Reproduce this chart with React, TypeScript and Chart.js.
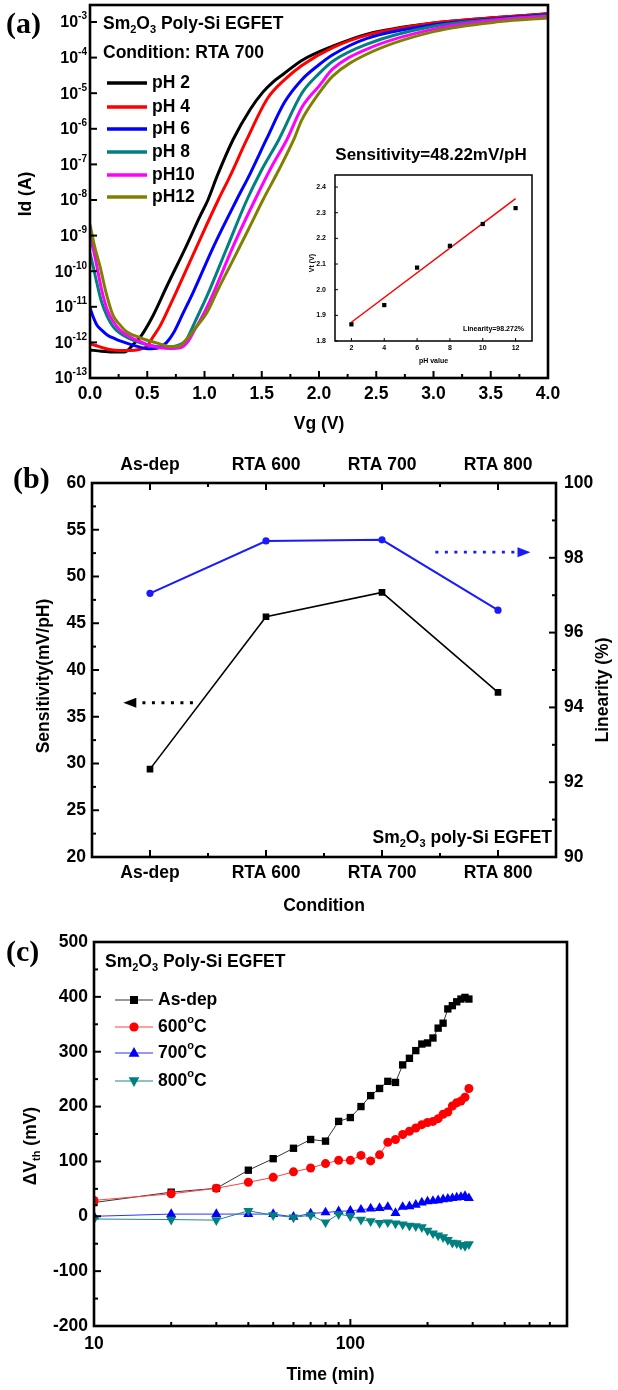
import React, { useEffect, useRef } from 'react';
import { Chart, registerables } from 'chart.js';
Chart.register(...registerables);

const SANS = '"Liberation Sans", Arial, sans-serif';
const SERIF = '"Liberation Serif", "Times New Roman", serif';
const FS = 17.5;

// ---------- Panel (a): Id-Vg curves ----------
const phLabels = ['pH 2', 'pH 4', 'pH 6', 'pH 8', 'pH10', 'pH12'];
const phColors = ['#000000', '#ff0000', '#0000ff', '#008080', '#ff00ff', '#808000'];
const vgPH2 = [0, 0.1, 0.2, 0.3, 0.38, 0.45, 0.55, 0.67, 0.84, 0.96, 1.03, 1.11, 1.25, 1.4, 1.51, 1.6, 1.69, 1.85, 2.12, 2.42, 3.0, 3.58, 4.0];
const logIdPH2 = [-12.21, -12.25, -12.27, -12.27, -12.05, -11.8, -11.25, -10.43, -9.3, -8.46, -8.0, -7.33, -6.3, -5.45, -4.97, -4.68, -4.46, -4.08, -3.68, -3.34, -3.03, -2.87, -2.77];
const vgPH4 = [0, 0.08, 0.17, 0.26, 0.35, 0.43, 0.5, 0.55, 0.61, 0.7, 0.79, 0.96, 1.12, 1.22, 1.37, 1.55, 1.7, 1.85, 2.12, 2.42, 3.0, 3.58, 4.0];
const logIdPH4 = [-12.04, -12.12, -12.2, -12.23, -12.23, -12.2, -12.1, -11.85, -11.55, -10.95, -10.32, -9.11, -8.0, -7.35, -6.3, -5.15, -4.62, -4.22, -3.72, -3.37, -3.03, -2.87, -2.77];
const vgPH6 = [0, 0.03, 0.06, 0.1, 0.15, 0.22, 0.32, 0.42, 0.5, 0.6, 0.67, 0.73, 0.81, 0.9, 1.08, 1.28, 1.4, 1.54, 1.7, 1.85, 2.0, 2.12, 2.42, 3.0, 3.58, 4.0];
const logIdPH6 = [-11.03, -11.3, -11.51, -11.65, -11.79, -11.9, -12.02, -12.12, -12.18, -12.15, -12.0, -11.73, -11.2, -10.6, -9.3, -8.0, -7.25, -6.3, -5.25, -4.62, -4.2, -3.92, -3.46, -3.08, -2.9, -2.8];
const vgPH8 = [0, 0.03, 0.06, 0.1, 0.15, 0.2, 0.26, 0.35, 0.44, 0.55, 0.65, 0.75, 0.84, 0.92, 1.02, 1.19, 1.37, 1.5, 1.65, 1.85, 2.0, 2.12, 2.42, 3.0, 3.58, 4.0];
const logIdPH8 = [-9.49, -9.9, -10.33, -10.85, -11.27, -11.55, -11.74, -11.9, -12.01, -12.1, -12.13, -12.1, -11.93, -11.4, -10.71, -9.39, -8.0, -7.15, -6.3, -5.0, -4.45, -4.1, -3.62, -3.12, -2.92, -2.82];
const vgPH10 = [0, 0.03, 0.06, 0.1, 0.15, 0.2, 0.26, 0.35, 0.44, 0.52, 0.61, 0.7, 0.79, 0.85, 0.9, 1.0, 1.08, 1.25, 1.44, 1.58, 1.72, 1.85, 2.0, 2.12, 2.42, 3.0, 3.58, 4.0];
const logIdPH10 = [-9.02, -9.4, -9.86, -10.5, -11.08, -11.4, -11.65, -11.85, -11.98, -12.08, -12.15, -12.17, -12.15, -12.0, -11.73, -11.15, -10.6, -9.3, -8.0, -7.1, -6.3, -5.4, -4.8, -4.32, -3.76, -3.2, -2.94, -2.84];
const vgPH12 = [0, 0.04, 0.087, 0.14, 0.2, 0.26, 0.32, 0.44, 0.52, 0.61, 0.7, 0.78, 0.84, 0.92, 1.02, 1.12, 1.25, 1.38, 1.51, 1.65, 1.78, 1.85, 2.0, 2.12, 2.42, 3.0, 3.58, 4.0];
const logIdPH12 = [-8.69, -9.3, -9.86, -10.6, -11.23, -11.5, -11.7, -11.87, -11.96, -12.04, -12.12, -12.1, -11.93, -11.6, -11.17, -10.5, -9.68, -8.85, -8.0, -7.15, -6.3, -5.75, -5.0, -4.52, -3.9, -3.27, -2.99, -2.89];
const vgSets = [vgPH2, vgPH4, vgPH6, vgPH8, vgPH10, vgPH12];
const logIdSets = [logIdPH2, logIdPH4, logIdPH6, logIdPH8, logIdPH10, logIdPH12];
const idTickExps = [-3, -4, -5, -6, -7, -8, -9, -10, -11, -12, -13];
const vgTicks = [0, 0.5, 1.0, 1.5, 2.0, 2.5, 3.0, 3.5, 4.0];
const vgMinorTicks = [0.25, 0.75, 1.25, 1.75, 2.25, 2.75, 3.25, 3.75];

// ---------- Inset ----------
const insetPH = [2, 4, 6, 8, 10, 12];
const insetVt = [1.865, 1.94, 2.086, 2.171, 2.256, 2.318];
const fitPH = [2, 12];
const fitVt = [1.873, 2.355];
const insetYTicks = [1.8, 1.9, 2.0, 2.1, 2.2, 2.3, 2.4];
const insetXTicks = [2, 4, 6, 8, 10, 12];

// ---------- Panel (b) ----------
const conditions = ['As-dep', 'RTA 600', 'RTA 700', 'RTA 800'];
const sensitivity = [29.4, 45.7, 48.3, 37.6];
const linearity = [97.05, 98.45, 98.48, 96.6];
const sensTicks = [20, 25, 30, 35, 40, 45, 50, 55, 60];
const linTicks = [90, 92, 94, 96, 98, 100];
const arrowSens = [0.37, -0.23, 36.5]; // from idx, to idx, value
const arrowLin = [2.46, 3.28, 98.15];

// ---------- Panel (c) ----------
const times = [10, 20, 30, 40, 50, 60, 70, 80, 90, 100, 110, 120, 130, 140, 150, 160, 170, 180, 190, 200, 210, 220, 230, 240, 250, 260, 270, 280, 290];
const dvAsDep = [25, 44, 51, 84, 105, 124, 140, 137, 173, 180, 200, 220, 233, 246, 244, 276, 288, 302, 314, 316, 325, 343, 352, 378, 384, 391, 396, 399, 396];
const dv600 = [29, 41, 51, 62, 71, 81, 88, 96, 102, 102, 111, 101, 112, 135, 140, 149, 155, 161, 167, 171, 173, 178, 186, 190, 201, 207, 210, 217, 233];
const dv700 = [0, 4, 4, 4, 4, -1, 5, 7, 9, 10, 12, 14, 15, 17, 6, 17, 18, 21, 25, 27, 28, 29, 31, 32, 33, 34, 35, 37, 33];
const dv800 = [-5, -6, -7, 10, 2, -2, 2, -11, 4, 0, -6, -9, -12, -11, -13, -15, -17, -18, -20, -26, -31, -35, -38, -43, -48, -49, -52, -54, -51];
const dvTicks = [-200, -100, 0, 100, 200, 300, 400, 500];
const dvMinorTicks = [-150, -50, 50, 150, 250, 350, 450];
const timeLabels = [10, 100];
const timeMinorTicks = [20, 30, 40, 50, 60, 70, 80, 90, 200, 300, 400, 500, 600];
const seriesC = ['As-dep', '600', '700', '800'];
const colorsC = ['#000000', '#ff0000', '#0000ff', '#008080'];
const lineColorsC = ['#333333', '#ff4040', '#3030ff', '#208888'];

// ---------- helpers ----------
type Seg = [string, number];
function rich(ctx: any, segs: Seg[] | string, x: number, y: number, size: number, align = 'left', opt: any = {}) {
  const list: Seg[] = typeof segs === 'string' ? [[segs, 0]] : segs;
  const fam = opt.family || SANS;
  const wt = opt.weight || 'bold';
  const f = (m: number) => `${wt} ${m ? Math.round(size * 0.62) : size}px ${fam}`;
  let w = 0;
  for (const [t, m] of list) { ctx.font = f(m); w += ctx.measureText(t).width; }
  ctx.save();
  ctx.translate(x, y);
  if (opt.rot) ctx.rotate(opt.rot);
  let cx = align === 'left' ? 0 : align === 'center' ? -w / 2 : -w;
  ctx.fillStyle = opt.color || '#000';
  ctx.textBaseline = 'middle';
  ctx.textAlign = 'left';
  for (const [t, m] of list) {
    ctx.font = f(m);
    const dy = m === 1 ? size * 0.32 : m === 2 ? -size * 0.4 : 0;
    ctx.fillText(t, cx, dy);
    cx += ctx.measureText(t).width;
  }
  ctx.restore();
}
function frame(ctx: any, a: any, lw = 2.5) {
  ctx.save();
  ctx.lineWidth = lw;
  ctx.strokeStyle = '#000';
  ctx.strokeRect(a.left, a.top, a.right - a.left, a.bottom - a.top);
  ctx.restore();
}
function tick(ctx: any, x: number, y: number, dx: number, dy: number, lw = 2) {
  ctx.save();
  ctx.lineWidth = lw;
  ctx.strokeStyle = '#000';
  ctx.beginPath();
  ctx.moveTo(x, y);
  ctx.lineTo(x + dx, y + dy);
  ctx.stroke();
  ctx.restore();
}
function marker(ctx: any, style: string, x: number, y: number, r: number, color: string) {
  ctx.save();
  ctx.fillStyle = color;
  ctx.beginPath();
  if (style === 'rect') ctx.rect(x - r, y - r, 2 * r, 2 * r);
  else if (style === 'circle') ctx.arc(x, y, r, 0, Math.PI * 2);
  else if (style === 'tri') { ctx.moveTo(x, y - r * 1.1); ctx.lineTo(x + r, y + r * 0.7); ctx.lineTo(x - r, y + r * 0.7); ctx.closePath(); }
  else { ctx.moveTo(x, y + r * 1.1); ctx.lineTo(x + r, y - r * 0.7); ctx.lineTo(x - r, y - r * 0.7); ctx.closePath(); }
  ctx.fill();
  ctx.restore();
}
function arrow(ctx: any, x1: number, x2: number, y: number, color: string) {
  ctx.save();
  ctx.strokeStyle = color;
  ctx.fillStyle = color;
  ctx.lineWidth = 2.8;
  const dir = Math.sign(x2 - x1);
  const head = 13;
  ctx.setLineDash([3, 6.5]);
  ctx.beginPath();
  ctx.moveTo(x1, y);
  ctx.lineTo(x2 - dir * head, y);
  ctx.stroke();
  ctx.setLineDash([]);
  ctx.beginPath();
  ctx.moveTo(x2, y);
  ctx.lineTo(x2 - dir * head, y - 5);
  ctx.lineTo(x2 - dir * head, y + 5);
  ctx.closePath();
  ctx.fill();
  ctx.restore();
}
const SM2O3: Seg[] = [['Sm', 0], ['2', 1], ['O', 0], ['3', 1]];
const hidden = (extra: any = {}) => ({ display: false, ...extra });
const baseOpts = (padding: any) => ({
  animation: false,
  responsive: false,
  maintainAspectRatio: false,
  events: [],
  layout: { padding },
  plugins: { legend: { display: false }, tooltip: { enabled: false }, title: { display: false } },
});

// ---------- chart configs ----------
function cfgA(): any {
  return {
    type: 'line',
    data: {
      datasets: phLabels.map((lab, i) => ({
        label: lab,
        data: vgSets[i].map((v, j) => ({ x: v, y: Math.pow(10, logIdSets[i][j]) })),
        borderColor: phColors[i],
        borderWidth: 3,
        pointRadius: 0,
        cubicInterpolationMode: 'monotone',
        order: 5 - i,
      })),
    },
    options: {
      ...baseOpts({ left: 90, right: 70, top: 5, bottom: 1012 }),
      scales: {
        x: hidden({ type: 'linear', min: 0, max: 4 }),
        y: hidden({ type: 'logarithmic', min: 1e-13, max: 3e-3 }),
      },
    },
    plugins: [{
      id: 'pa',
      afterDraw(chart: any) {
        const ctx = chart.ctx, a = chart.chartArea, xs = chart.scales.x, ys = chart.scales.y;
        frame(ctx, a, 2.6);
        for (const v of vgTicks) tick(ctx, xs.getPixelForValue(v), a.bottom, 0, -7);
        for (const v of vgMinorTicks) tick(ctx, xs.getPixelForValue(v), a.bottom, 0, -4);
        for (const e of idTickExps) tick(ctx, a.left, ys.getPixelForValue(Math.pow(10, e)), 7, 0);
        for (const v of vgTicks) rich(ctx, v.toFixed(1), xs.getPixelForValue(v), 394, FS, 'center');
        for (const e of idTickExps) rich(ctx, [['10', 0], [String(e), 2]], 87, ys.getPixelForValue(Math.pow(10, e)) + 1, 16, 'right');
        rich(ctx, 'Vg (V)', (a.left + a.right) / 2, 424, FS, 'center');
        rich(ctx, 'Id (A)', 26, 194, FS, 'center', { rot: -Math.PI / 2 });
        rich(ctx, '(a)', 6, 25, 30, 'left', { family: SERIF });
        rich(ctx, [...SM2O3, [' Poly-Si EGFET', 0]], 103, 24, FS, 'left');
        rich(ctx, 'Condition: RTA 700', 103, 53, FS, 'left');
        const rows = [83, 107, 129, 152, 175, 197];
        phLabels.forEach((lab, i) => {
          ctx.save();
          ctx.strokeStyle = phColors[i];
          ctx.lineWidth = 3.5;
          ctx.beginPath();
          ctx.moveTo(107, rows[i]);
          ctx.lineTo(147, rows[i]);
          ctx.stroke();
          ctx.restore();
          rich(ctx, lab, 152, rows[i], FS, 'left');
        });
      },
    }],
  };
}

function cfgInset(): any {
  return {
    type: 'line',
    data: {
      datasets: [
        {
          data: fitPH.map((p, i) => ({ x: p, y: fitVt[i] })),
          borderColor: '#ff0000', borderWidth: 1.5, pointRadius: 0, order: 1,
        },
        {
          data: insetPH.map((p, i) => ({ x: p, y: insetVt[i] })),
          showLine: false, pointStyle: 'rect', pointRadius: 3, pointBorderWidth: 0,
          pointBackgroundColor: '#000', order: 0,
        },
      ],
    },
    options: {
      ...baseOpts({ left: 335, right: 86, top: 175, bottom: 1049 }),
      scales: {
        x: hidden({ type: 'linear', min: 1, max: 13 }),
        y: hidden({ type: 'linear', min: 1.8, max: 2.447 }),
      },
    },
    plugins: [{
      id: 'pi',
      afterDraw(chart: any) {
        const ctx = chart.ctx, a = chart.chartArea, xs = chart.scales.x, ys = chart.scales.y;
        frame(ctx, a, 1.5);
        for (const v of insetXTicks) {
          tick(ctx, xs.getPixelForValue(v), a.bottom, 0, -3, 1);
          rich(ctx, String(v), xs.getPixelForValue(v), 348, 7, 'center');
        }
        for (const v of insetYTicks) {
          tick(ctx, a.left, ys.getPixelForValue(v), 3, 0, 1);
          rich(ctx, v.toFixed(1), 326, ys.getPixelForValue(v), 7, 'right');
        }
        rich(ctx, 'pH value', (a.left + a.right) / 2, 361, 7, 'center');
        rich(ctx, 'Vt (V)', 312, 263, 7, 'center', { rot: -Math.PI / 2 });
        rich(ctx, 'Linearity=98.272%', 524, 329, 7, 'right');
        rich(ctx, 'Sensitivity=48.22mV/pH', 431, 155, 17, 'center');
      },
    }],
  };
}

function cfgB(): any {
  return {
    type: 'line',
    data: {
      labels: conditions,
      datasets: [
        {
          data: sensitivity, yAxisID: 'y', borderColor: '#000', borderWidth: 1.6,
          pointStyle: 'rect', pointRadius: 4.7, pointBorderWidth: 0, pointBackgroundColor: '#000',
        },
        {
          data: linearity, yAxisID: 'y1', borderColor: '#1a1aff', borderWidth: 2,
          pointStyle: 'circle', pointRadius: 3.6, pointBorderWidth: 0, pointBackgroundColor: '#1a1aff',
        },
      ],
    },
    options: {
      ...baseOpts({ left: 92, right: 62, top: 483, bottom: 533 }),
      scales: {
        x: hidden({ type: 'category', offset: true }),
        y: hidden({ type: 'linear', min: 20, max: 60 }),
        y1: hidden({ type: 'linear', min: 90, max: 100, position: 'right' }),
      },
    },
    plugins: [{
      id: 'pb',
      afterDraw(chart: any) {
        const ctx = chart.ctx, a = chart.chartArea, xs = chart.scales.x, ys = chart.scales.y, y1 = chart.scales.y1;
        frame(ctx, a, 2.6);
        conditions.forEach((c, i) => {
          const x = xs.getPixelForValue(i);
          tick(ctx, x, a.bottom, 0, -7);
          tick(ctx, x, a.top, 0, 7);
          rich(ctx, c, x, 873, FS, 'center');
          rich(ctx, c, x, 465, FS, 'center');
          if (i < conditions.length - 1) {
            const xm = xs.getPixelForValue(i + 0.5);
            tick(ctx, xm, a.bottom, 0, -4);
            tick(ctx, xm, a.top, 0, 4);
          }
        });
        sensTicks.forEach((v, i) => {
          tick(ctx, a.left, ys.getPixelForValue(v), 7, 0);
          if (i < sensTicks.length - 1) tick(ctx, a.left, ys.getPixelForValue(v + 2.5), 4, 0);
          rich(ctx, String(v), 86, ys.getPixelForValue(v), FS, 'right');
        });
        linTicks.forEach((v, i) => {
          tick(ctx, a.right, y1.getPixelForValue(v), -7, 0);
          if (i < linTicks.length - 1) tick(ctx, a.right, y1.getPixelForValue(v + 1), -4, 0);
          rich(ctx, String(v), 564, y1.getPixelForValue(v), FS, 'left');
        });
        rich(ctx, 'Condition', (a.left + a.right) / 2, 906, FS, 'center');
        rich(ctx, 'Sensitivity(mV/pH)', 44, 676, FS, 'center', { rot: -Math.PI / 2 });
        rich(ctx, 'Linearity (%)', 603, 690, FS, 'center', { rot: -Math.PI / 2 });
        rich(ctx, '(b)', 13, 480, 30, 'left', { family: SERIF });
        rich(ctx, [...SM2O3, [' poly-Si EGFET', 0]], 552, 838, FS, 'right');
        arrow(ctx, xs.getPixelForValue(arrowSens[0]), xs.getPixelForValue(arrowSens[1]), ys.getPixelForValue(arrowSens[2]), '#000');
        arrow(ctx, xs.getPixelForValue(arrowLin[0]), xs.getPixelForValue(arrowLin[1]), y1.getPixelForValue(arrowLin[2]), '#1a1aff');
      },
    }],
  };
}

function cfgC(): any {
  const sets = [dvAsDep, dv600, dv700, dv800];
  const styles = ['rect', 'circle', 'triangle', 'triangle'];
  const radii = [5.2, 4.5, 5.8, 5.8];
  return {
    type: 'line',
    data: {
      datasets: sets.map((s, i) => ({
        label: seriesC[i],
        data: times.map((t, j) => ({ x: t, y: s[j] })),
        borderColor: lineColorsC[i],
        borderWidth: 1,
        pointStyle: styles[i],
        pointRotation: i === 3 ? 180 : 0,
        pointRadius: radii[i],
        pointBorderWidth: 0,
        pointBackgroundColor: colorsC[i],
        order: 3 - i,
      })),
    },
    options: {
      ...baseOpts({ left: 94, right: 51, top: 942, bottom: 64 }),
      scales: {
        x: hidden({ type: 'logarithmic', min: 10, max: 700 }),
        y: hidden({ type: 'linear', min: -200, max: 500 }),
      },
    },
    plugins: [{
      id: 'pc',
      afterDraw(chart: any) {
        const ctx = chart.ctx, a = chart.chartArea, xs = chart.scales.x, ys = chart.scales.y;
        frame(ctx, a, 2.6);
        for (const v of dvTicks) {
          tick(ctx, a.left, ys.getPixelForValue(v), 7, 0);
          rich(ctx, String(v), 88, ys.getPixelForValue(v), FS, 'right');
        }
        for (const v of dvMinorTicks) tick(ctx, a.left, ys.getPixelForValue(v), 4, 0);
        for (const v of timeLabels) {
          tick(ctx, xs.getPixelForValue(v), a.bottom, 0, -7);
          rich(ctx, String(v), xs.getPixelForValue(v), 1344, FS, 'center');
        }
        for (const v of timeMinorTicks) tick(ctx, xs.getPixelForValue(v), a.bottom, 0, -4);
        rich(ctx, 'Time (min)', (a.left + a.right) / 2, 1375, FS, 'center');
        rich(ctx, [['\u0394V', 0], ['th', 1], [' (mV)', 0]], 31, 1146, FS, 'center', { rot: -Math.PI / 2 });
        rich(ctx, '(c)', 6, 953, 30, 'left', { family: SERIF });
        rich(ctx, [...SM2O3, [' Poly-Si EGFET', 0]], 105, 962, FS, 'left');
        const rows = [1000, 1027, 1053, 1081];
        const mk = ['rect', 'circle', 'tri', 'tridown'];
        const mr = [4, 4.6, 5.4, 5.4];
        const labs: Seg[][] = [
          [['As-dep', 0]],
          [['600', 0], ['o', 2], ['C', 0]],
          [['700', 0], ['o', 2], ['C', 0]],
          [['800', 0], ['o', 2], ['C', 0]],
        ];
        rows.forEach((y, i) => {
          ctx.save();
          ctx.strokeStyle = lineColorsC[i];
          ctx.lineWidth = 1.2;
          ctx.beginPath();
          ctx.moveTo(115, y);
          ctx.lineTo(153, y);
          ctx.stroke();
          ctx.restore();
          marker(ctx, mk[i], 134, y, mr[i], colorsC[i]);
          rich(ctx, labs[i], 158, y, FS, 'left');
        });
      },
    }],
  };
}

export default function App() {
  const refA = useRef<HTMLCanvasElement>(null);
  const refI = useRef<HTMLCanvasElement>(null);
  const refB = useRef<HTMLCanvasElement>(null);
  const refC = useRef<HTMLCanvasElement>(null);
  useEffect(() => {
    const charts = [
      new Chart(refA.current as HTMLCanvasElement, cfgA()),
      new Chart(refI.current as HTMLCanvasElement, cfgInset()),
      new Chart(refB.current as HTMLCanvasElement, cfgB()),
      new Chart(refC.current as HTMLCanvasElement, cfgC()),
    ];
    return () => charts.forEach((c) => c.destroy());
  }, []);
  const st: any = { position: 'absolute', left: 0, top: 0, width: 618, height: 1390 };
  return (
    <div style={{ position: 'absolute', left: 0, top: 0, width: 618, height: 1390, background: '#fff', overflow: 'hidden' }}>
      <canvas ref={refA} width={618} height={1390} style={st} />
      <canvas ref={refI} width={618} height={1390} style={st} />
      <canvas ref={refB} width={618} height={1390} style={st} />
      <canvas ref={refC} width={618} height={1390} style={st} />
    </div>
  );
}
